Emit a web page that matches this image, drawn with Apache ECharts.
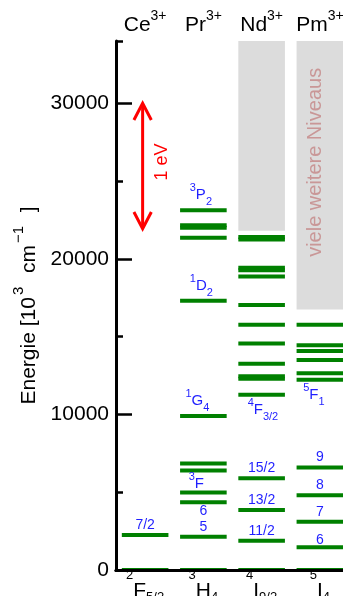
<!DOCTYPE html>
<html><head><meta charset="utf-8">
<script src="https://cdn.jsdelivr.net/npm/echarts@6/dist/echarts.min.js"></script>
<style>html,body{margin:0;padding:0;background:#fff}#c{width:343px;height:596px}</style>
</head><body><div id="c"></div>
<script>
// ---------- data ----------
const ions = ['Ce', 'Pr', 'Nd', 'Pm'];
const ionCharges = ['3+', '3+', '3+', '3+'];
const groundTerms = [['2', 'F', '5/2'], ['3', 'H', '4'], ['4', 'I', '9/2'], ['5', 'I', '4']];

const ceLevels = [0, 2250];
const prLevels = [0, 2130, 4360, 4980, 6390, 6840, 9890, 17300, 21350, 21990, 22150, 23120];
const ndLevels = [0, 1880, 3850, 5900, 11260, 12300, 12450, 13250, 14550, 15770, 17030, 18870, 19260, 19420, 21250, 21410];
const pmLevels = [0, 1470, 3100, 4810, 6580, 12220, 12650, 13500, 14080, 14440, 15770];

// region of "many more levels" (ion index, lower energy)
const grayBoxIons = [2, 3];
const grayBoxBottoms = [21800, 16750];

// level number labels: ion index, energy of the level, text, side
const numIons = [0, 1, 1, 2, 2, 2, 3, 3, 3, 3];
const numEnergies = [2250, 2130, 4360, 1880, 3850, 5900, 1470, 3100, 4810, 6580];
const numTexts = ['7/2', '5', '6', '11/2', '13/2', '15/2', '6', '7', '8', '9'];
const numSides = ['above', 'above', 'below', 'above', 'above', 'above', 'on', 'above', 'above', 'above'];

// term labels: ion index, energy, superscript, letter, subscript, side
const termIons = [1, 1, 1, 1, 2, 3];
const termEnergies = [23120, 17300, 9890, 4980, 11260, 12220];
const termSups = ['3', '1', '1', '3', '4', '5'];
const termMains = ['P', 'D', 'G', 'F', 'F', 'F'];
const termSubs = ['2', '2', '4', '', '3/2', '1'];
const termSides = ['above', 'above', 'above', 'tight', 'below', 'below'];

const eVinWavenumbers = 8065.5;
const arrowTopEnergy = 30000;
const annotationText = 'viele weitere Niveaus';
const annotationEnergy = 26200;
const yMax = 34000;

// ---------- styles ----------
const FONT = '"Liberation Sans", Arial, Helvetica, sans-serif';
const GREEN = '#008000';
const BLUE = '#1f1fff';
const BAR_FRAC = 0.8;
const termDx = [-2.5, -2, -6, -7, 1.3, -6];
const sideDyNum = { above: -10, below: 8.5, on: -7 };
const sideDyTerm = { above: -15, below: 15, tight: -8.3 };

const levelData = [];
[ceLevels, prLevels, ndLevels, pmLevels].forEach((arr, i) => arr.forEach(e => levelData.push([i, e])));

const chart = echarts.init(document.getElementById('c'), null, { renderer: 'canvas' });

const option = {
  animation: false,
  backgroundColor: '#fff',
  grid: { left: 116, top: 41, width: 233, height: 529, containLabel: false, outerBoundsMode: 'none' },
  xAxis: [
    {
      type: 'category', data: ions, position: 'bottom', boundaryGap: true, z: 5,
      axisLine: { lineStyle: { color: '#000', width: 3 } },
      axisTick: { inside: true, length: 15, alignWithLabel: true, lineStyle: { color: '#000', width: 2.5 } },
      axisLabel: {
        interval: 0, hideOverlap: false,
        margin: -1.5, color: '#000', fontFamily: FONT,
        formatter: (v, idx) => { const t = groundTerms[idx]; return '{s|' + t[0] + '}{m|' + t[1] + '}{b|' + t[2] + '}'; },
        rich: {
          m: { fontSize: 21, fontFamily: FONT, color: '#000' },
          s: { fontSize: 13, fontFamily: FONT, color: '#000', padding: [0, 0, 33, 0] },
          b: { fontSize: 13, fontFamily: FONT, color: '#000', padding: [12, 0, 0, 0] }
        }
      },
      splitLine: { show: false }
    },
    {
      type: 'category', data: ions, position: 'top', boundaryGap: true, z: 5,
      axisLine: { lineStyle: { color: '#000', width: 3 } },
      axisTick: { inside: true, length: 14, alignWithLabel: true, interval: (idx) => idx < 2, lineStyle: { color: '#000', width: 2.5 } },
      axisLabel: {
        interval: 0, hideOverlap: false,
        margin: -1, color: '#000', fontFamily: FONT,
        formatter: (v, idx) => '{m|' + v + '}{s|' + ionCharges[idx] + '}',
        rich: {
          m: { fontSize: 21, fontFamily: FONT, color: '#000' },
          s: { fontSize: 14, fontFamily: FONT, color: '#000', padding: [0, 0, 19, 0] }
        }
      },
      splitLine: { show: false }
    }
  ],
  yAxis: [
    {
      type: 'value', min: 0, max: yMax, interval: 10000, z: 5,
      axisLine: { show: true, lineStyle: { color: '#000', width: 3 } },
      axisTick: { show: true, inside: true, length: 16, lineStyle: { color: '#000', width: 2.5 } },
      axisLabel: { fontSize: 21, color: '#000', margin: 7, fontFamily: FONT, showMaxLabel: false, formatter: (v) => String(v) },
      splitLine: { show: false },
      name: '{m|Energie [10}{s|3}{m|  cm}{s|\u22121}{m|  ]}',
      nameLocation: 'middle', nameRotate: 90, nameGap: 68,
      nameTextStyle: {
        rich: {
          m: { fontSize: 21, fontFamily: FONT, color: '#000' },
          s: { fontSize: 15, fontFamily: FONT, color: '#000', padding: [0, 2, 21, 2] }
        }
      }
    },
    {
      type: 'value', min: 0, max: yMax, interval: 5000, position: 'left', z: 5,
      axisLine: { show: false },
      axisTick: { show: true, inside: true, length: 7, lineStyle: { color: '#000', width: 2.5 } },
      axisLabel: { show: false },
      splitLine: { show: false }
    }
  ],
  series: [
    {
      type: 'custom', name: 'boxes', coordinateSystem: 'cartesian2d', xAxisIndex: 0, yAxisIndex: 0, z: 1,
      data: grayBoxIons.map((ion, k) => [ion, grayBoxBottoms[k]]),
      renderItem: (params, api) => {
        const i = api.value(0), e = api.value(1);
        const pTop = api.coord([i, yMax]);
        const pBot = api.coord([i, e]);
        const w = api.size([1, 0])[0] * BAR_FRAC;
        return { type: 'rect', shape: { x: pTop[0] - w / 2, y: pTop[1], width: w, height: pBot[1] - pTop[1] }, style: { fill: '#dcdcdc' } };
      }
    },
    {
      type: 'custom', name: 'annotation', coordinateSystem: 'cartesian2d', xAxisIndex: 0, yAxisIndex: 0, z: 2,
      data: [[3, annotationEnergy]],
      renderItem: (params, api) => {
        const p = api.coord([api.value(0), api.value(1)]);
        return { type: 'text', x: p[0] - 4, y: p[1], rotation: Math.PI / 2,
          style: { text: annotationText, fontSize: 20, fontFamily: FONT, fill: '#c99797', align: 'center', verticalAlign: 'middle' } };
      }
    },
    {
      type: 'custom', name: 'levels', coordinateSystem: 'cartesian2d', xAxisIndex: 0, yAxisIndex: 0, z: 3,
      data: levelData,
      renderItem: (params, api) => {
        const p = api.coord([api.value(0), api.value(1)]);
        const w = api.size([1, 0])[0] * BAR_FRAC;
        return { type: 'rect', shape: { x: p[0] - w / 2, y: p[1] - 2, width: w, height: 4 }, style: { fill: GREEN } };
      }
    },
    {
      type: 'custom', name: 'eV arrow', coordinateSystem: 'cartesian2d', xAxisIndex: 0, yAxisIndex: 0, z: 3,
      data: [[0, arrowTopEnergy, arrowTopEnergy - eVinWavenumbers]],
      renderItem: (params, api) => {
        const pT = api.coord([api.value(0), api.value(1)]);
        const pB = api.coord([api.value(0), api.value(2)]);
        const x = pT[0] - 2.5;
        const st = { stroke: '#ff0000', lineWidth: 3, fill: null, lineJoin: 'miter' };
        return { type: 'group', children: [
          { type: 'line', shape: { x1: x, y1: pT[1] + 1, x2: x, y2: pB[1] - 1 }, style: st },
          { type: 'polyline', shape: { points: [[x - 8.7, pT[1] + 16.7], [x, pT[1]], [x + 8.7, pT[1] + 16.7]] }, style: st },
          { type: 'polyline', shape: { points: [[x - 8.7, pB[1] - 16.7], [x, pB[1]], [x + 8.7, pB[1] - 16.7]] }, style: st },
          { type: 'text', x: x + 19, y: (pT[1] + pB[1]) / 2 - 4, rotation: Math.PI / 2,
            style: { text: '1 eV', fontSize: 18, fontFamily: FONT, fill: '#ff0000', align: 'center', verticalAlign: 'middle' } }
        ] };
      }
    },
    {
      type: 'custom', name: 'numbers', coordinateSystem: 'cartesian2d', xAxisIndex: 0, yAxisIndex: 0, z: 4,
      data: numIons.map((ion, k) => [ion, numEnergies[k]]),
      renderItem: (params, api) => {
        const k = params.dataIndex;
        const p = api.coord([api.value(0), api.value(1)]);
        return { type: 'text', x: p[0], y: p[1] + sideDyNum[numSides[k]],
          style: { text: numTexts[k], fontSize: 14, fontFamily: FONT, fill: BLUE, align: 'center', verticalAlign: 'middle' } };
      }
    },
    {
      type: 'custom', name: 'terms', coordinateSystem: 'cartesian2d', xAxisIndex: 0, yAxisIndex: 0, z: 4,
      data: termIons.map((ion, k) => [ion, termEnergies[k]]),
      renderItem: (params, api) => {
        const k = params.dataIndex;
        const p = api.coord([api.value(0), api.value(1)]);
        let txt = '{s|' + termSups[k] + '}{m|' + termMains[k] + '}';
        if (termSubs[k]) txt += '{b|' + termSubs[k] + '}';
        return { type: 'text', x: p[0] + termDx[k], y: p[1] + sideDyTerm[termSides[k]],
          style: { text: txt, fill: BLUE, align: 'center', verticalAlign: 'middle',
            rich: {
              m: { fontSize: 15, fontFamily: FONT, fill: BLUE },
              s: { fontSize: 11, fontFamily: FONT, fill: BLUE, padding: [0, 0, 14, 0] },
              b: { fontSize: 11, fontFamily: FONT, fill: BLUE, padding: [14, 0, 0, 0] }
            } } };
      }
    }
  ]
};
chart.setOption(option);
</script>
</body></html>
